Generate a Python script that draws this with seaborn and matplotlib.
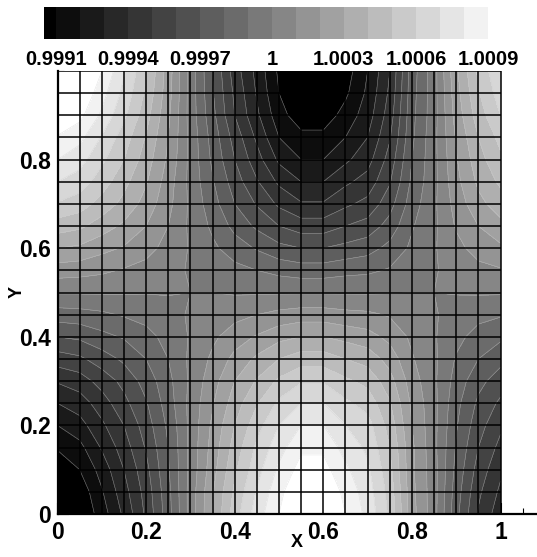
import numpy as np
import matplotlib
matplotlib.use("Agg")
import matplotlib.pyplot as plt
from matplotlib.colors import ListedColormap, BoundaryNorm
import seaborn as sns

# grid nodes
x_nodes = [0, .05, .1, .15, .2, .25, .3, .35, .4, .45, .5, .55, .6, .65, .7, .75, .8, .85, .9, .95, 1]
y_nodes = [1, .95, .9, .85, .8, .75, .7, .65, .6, .55, .5, .45, .4, .35, .3, .25, .2, .15, .1, .05, 0]

# values, as (value - 1) * 1e4, top row first
dev = [
    [11.5, 10.7, 9.0, 7.1, 5.1, 2.5, -0.4, -3.0, -5.5, -7.3, -9.2, -10.9, -10.9, -9.5, -8.0, -6.0, -2.5, -0.4, 2.8, 5.2, 6.9],
    [10.8, 10.0, 8.4, 6.7, 4.8, 2.4, -0.4, -2.9, -5.2, -7.1, -9.0, -10.3, -10.3, -9.2, -7.8, -5.8, -2.4, -0.4, 2.6, 4.9, 6.5],
    [10.0, 9.3, 7.8, 6.2, 4.4, 2.2, -0.4, -2.7, -5.0, -6.8, -8.6, -9.6, -9.6, -8.6, -7.5, -5.5, -2.3, -0.4, 2.4, 4.5, 6.0],
    [8.9, 8.3, 6.9, 5.5, 3.9, 2.0, -0.3, -2.4, -4.4, -6.2, -8.0, -8.7, -8.7, -8.0, -7.0, -5.1, -2.2, -0.3, 2.1, 4.0, 5.3],
    [8.0, 7.4, 6.2, 5.0, 3.5, 1.8, -0.3, -2.2, -4.0, -5.6, -7.2, -8.0, -8.0, -7.2, -6.4, -4.6, -2.0, -0.3, 1.9, 3.6, 4.8],
    [7.0, 6.5, 5.5, 4.3, 3.1, 1.5, -0.3, -1.9, -3.5, -4.9, -6.2, -7.0, -7.0, -6.2, -5.6, -4.1, -1.8, -0.3, 1.7, 3.2, 4.2],
    [5.9, 5.5, 4.6, 3.7, 2.6, 1.3, -0.2, -1.6, -3.0, -4.1, -5.2, -5.9, -5.9, -5.2, -4.7, -3.4, -1.5, -0.2, 1.4, 2.7, 3.5],
    [4.5, 4.2, 3.5, 2.8, 2.0, 1.0, -0.2, -1.2, -2.3, -3.2, -4.0, -4.5, -4.5, -4.0, -3.6, -2.6, -1.1, -0.2, 1.1, 2.0, 2.7],
    [3.0, 2.8, 2.3, 1.9, 1.3, 0.7, -0.1, -0.8, -1.5, -2.1, -2.7, -3.0, -3.0, -2.7, -2.4, -1.7, -0.8, -0.1, 0.7, 1.4, 1.8],
    [1.5, 1.4, 1.2, 0.9, 0.7, 0.3, -0.1, -0.4, -0.7, -1.0, -1.3, -1.5, -1.5, -1.3, -1.2, -0.9, -0.4, -0.1, 0.4, 0.7, 0.9],
    [0.1, 0.1, 0.1, 0.1, 0.05, 0.05, 0.0, 0.0, -0.1, -0.1, -0.1, -0.1, -0.1, -0.1, -0.1, -0.05, 0.0, 0.0, 0.05, 0.1, 0.1],
    [-1.5, -1.4, -1.2, -0.9, -0.7, -0.3, 0.1, 0.4, 0.7, 1.0, 1.3, 1.5, 1.5, 1.3, 1.2, 0.9, 0.4, 0.1, -0.4, -0.7, -0.9],
    [-3.0, -2.8, -2.3, -1.9, -1.3, -0.7, 0.1, 0.8, 1.5, 2.1, 2.7, 3.0, 3.0, 2.7, 2.4, 1.7, 0.8, 0.1, -0.7, -1.4, -1.8],
    [-4.5, -4.2, -3.5, -2.8, -2.0, -1.0, 0.2, 1.2, 2.3, 3.2, 4.0, 4.5, 4.5, 4.0, 3.6, 2.6, 1.1, 0.2, -1.1, -2.0, -2.7],
    [-5.9, -5.5, -4.6, -3.7, -2.6, -1.3, 0.2, 1.6, 3.0, 4.1, 5.2, 5.9, 5.9, 5.2, 4.7, 3.4, 1.5, 0.2, -1.4, -2.7, -3.5],
    [-7.0, -6.5, -5.5, -4.3, -3.1, -1.5, 0.3, 1.9, 3.5, 4.9, 6.2, 7.0, 7.0, 6.2, 5.6, 4.1, 1.8, 0.3, -1.7, -3.2, -4.2],
    [-8.0, -7.4, -6.2, -5.0, -3.5, -1.8, 0.3, 2.2, 4.0, 5.6, 7.0, 8.0, 8.0, 7.0, 6.4, 4.6, 2.0, 0.3, -1.9, -3.6, -4.8],
    [-8.9, -8.3, -6.9, -5.5, -3.9, -2.0, 0.3, 2.4, 4.4, 6.2, 7.6, 8.8, 8.8, 7.6, 6.8, 5.0, 2.2, 0.3, -2.1, -4.0, -5.3],
    [-9.7, -9.0, -7.6, -6.0, -4.3, -2.1, 0.3, 2.6, 4.8, 6.6, 8.2, 9.4, 9.4, 8.2, 7.2, 5.3, 2.2, 0.4, -2.3, -4.4, -5.8],
    [-10.4, -9.7, -8.1, -6.4, -4.6, -2.3, 0.4, 2.9, 5.2, 7.1, 8.7, 10.0, 10.0, 8.7, 7.5, 5.6, 2.3, 0.4, -2.5, -4.8, -6.2],
    [-11.0, -10.0, -8.5, -6.8, -4.8, -2.4, 0.4, 3.0, 5.5, 7.5, 9.0, 10.5, 10.5, 9.0, 7.7, 5.8, 2.4, 0.4, -2.7, -5.1, -6.6],
]

level_units = [-9, -8, -7, -6, -5, -4, -3, -2, -1, 0, 1, 2, 3, 4, 5, 6, 7, 8, 9]
bar_labels = ["0.9991", "0.9994", "0.9997", "1", "1.0003", "1.0006", "1.0009"]
bar_label_units = [-9, -6, -3, 0, 3, 6, 9]
x_ticks = [0, .2, .4, .6, .8, 1]
x_ticklabels = ["0", "0.2", "0.4", "0.6", "0.8", "1"]
y_ticks = [0, .2, .4, .6, .8]
y_ticklabels = ["0", "0.2", "0.4", "0.6", "0.8"]

sns.set_theme(style="ticks")
plt.rcParams["font.family"] = ["Liberation Sans", "DejaVu Sans"]
plt.rcParams["font.weight"] = "bold"

W, H = 537, 557
fig = plt.figure(figsize=(W / 100, H / 100), dpi=100)

field = 1 + np.array(dev) * 1e-4
levels = 1 + np.array(level_units) * 1e-4

# 20 bands from black to white
grays = sns.blend_palette(["black", "white"], len(levels) + 1)
cmap = ListedColormap(grays[1:-1])
cmap.set_under(grays[0])
cmap.set_over(grays[-1])
norm = BoundaryNorm(levels, cmap.N)

# main plot
ax = fig.add_axes([57.5 / W, 1 - 514 / H, 479.5 / W, 443 / H])
ax.contourf(x_nodes, y_nodes, field, levels=levels, cmap=cmap, norm=norm, extend="both")
ax.contour(x_nodes, y_nodes, field, levels=levels, colors="#d0d0d0", linewidths=0.4, alpha=0.55)
ax.vlines(x_nodes, 0, 1, color="black", lw=1.1)
ax.hlines(y_nodes, 0, 1, color="black", lw=1.1)
ax.set_xlim(0, 479.5 / 443)
ax.set_ylim(0, 1)
ax.set_xticks(x_ticks, x_ticklabels)
ax.set_yticks(y_ticks, y_ticklabels)
ax.set_xticks(x_nodes + [1.05], minor=True)
ax.set_yticks(y_nodes, minor=True)
ax.tick_params(which="major", direction="in", length=8, width=1.5, labelsize=16.5, pad=5, color="black", labelcolor="black")
ax.tick_params(which="minor", direction="in", length=4, width=0.8, color="black")
ax.set_xlabel("X", fontsize=13, fontweight="bold", color="black", labelpad=-7)
ax.set_ylabel("Y", fontsize=13, fontweight="bold", color="black", labelpad=-5)
sns.despine(ax=ax)
for side in ["left", "bottom"]:
    ax.spines[side].set_linewidth(1.6)
    ax.spines[side].set_color("black")

# contour legend strip, first band cut short
cax = fig.add_axes([44 / W, 1 - 38.7 / H, 444 / W, 31.7 / H])
strip = 1 + (np.array([level_units[0] - 1] + level_units[:-1]) + 0.5) * 1e-4
sns.heatmap(strip[None, :], ax=cax, cmap=cmap, norm=norm, cbar=False,
            xticklabels=False, yticklabels=False)
cax.set_xlim(0.51, 19)
cax.set_xticks(np.array(bar_label_units) - level_units[0] + 1, bar_labels)
cax.tick_params(axis="x", length=0, labelsize=14.5, pad=8, labelcolor="black")

fig.savefig("out.png", dpi=100)
